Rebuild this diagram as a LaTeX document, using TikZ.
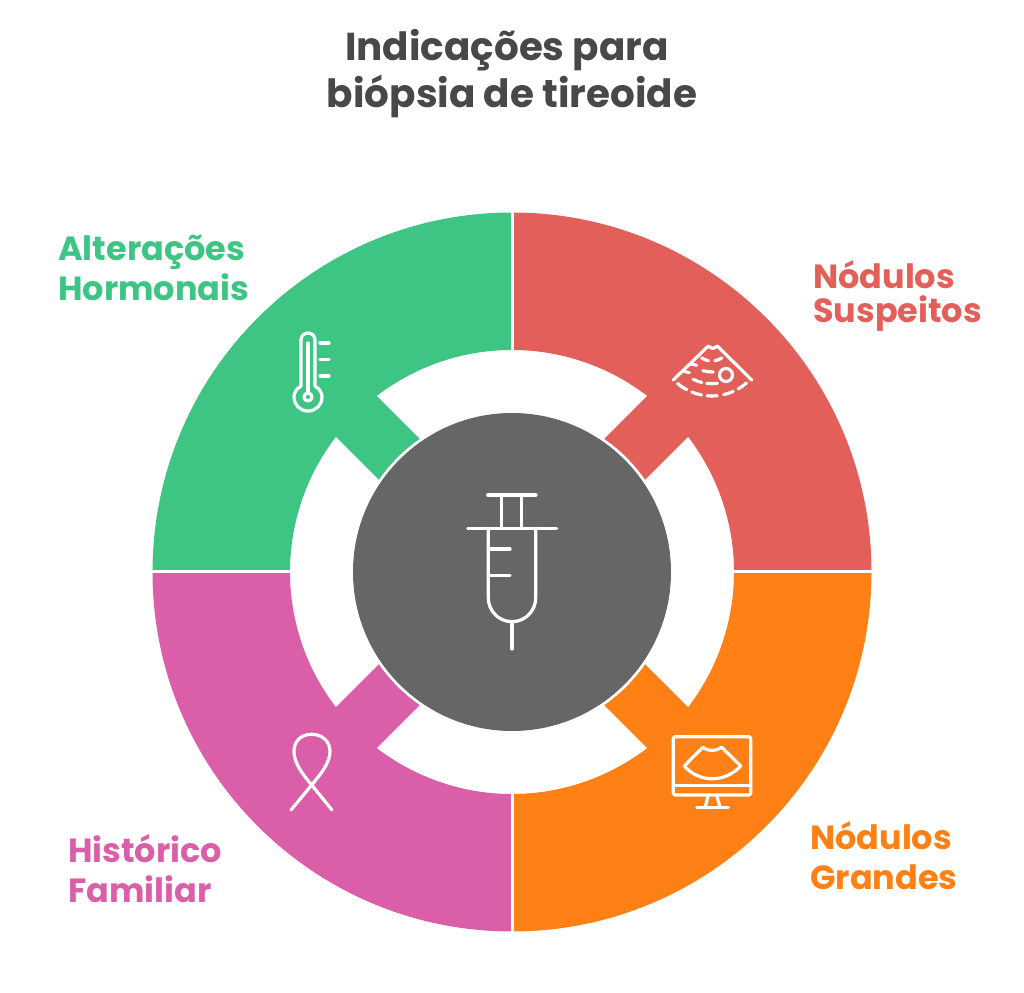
\documentclass[tikz,border=0pt]{standalone}
\usepackage{fontspec}
\setmainfont{Poppins}
\definecolor{hormcol}{HTML}{3EC584}
\definecolor{suspcol}{HTML}{E25F5A}
\definecolor{grancol}{HTML}{FF8014}
\definecolor{histcol}{HTML}{DB5FA8}
\definecolor{hubcol}{HTML}{666666}
\definecolor{titlecol}{HTML}{484848}
\tikzset{%
  heading/.style = {align=center, inner sep=0pt, text=titlecol,%
                    font=\fontsize{38.9}{47}\selectfont\bfseries},%
  tag/.style     = {align=left, anchor=west, inner sep=0pt,%
                    font=\fontsize{33.5}{40}\selectfont\bfseries},%
  icon/.style    = {draw=white, line width=3.2pt, line cap=round, line join=round},%
  gap/.style     = {draw=white, line width=3pt}%
}
\begin{document}
\begin{tikzpicture}[x=1pt,y=1pt]
	\useasboundingbox (-512,-420) rectangle (512,572);
	\foreach \turn/\col in {0/hormcol,-90/suspcol,-180/grancol,-270/histcol}
		\fill [\col,rotate=\turn] (90:359.5) arc (90:180:359.5) -- (180:222) arc (180:142.5:222)
			-- (145.3:162) arc (145.3:124.7:162) -- (127.5:222) arc (127.5:90:222) -- cycle;
	\draw [gap] (0,222) -- (0,361);
	\draw [gap] (0,-222) -- (0,-361);
	\draw [gap] (222,0) -- (361,0);
	\draw [gap] (-222,0) -- (-361,0);
	\fill [hubcol] (0,0) circle (159);
	\node [heading] (title) at (0,498) {Indicações para\hspace{10pt}\mbox{}\\biópsia de tireoide};
	\node [tag,text=hormcol] (hormonal) at (-454,304) {Alterações\\Hormonais};
	\node [tag,text=suspcol,font=\fontsize{33.5}{34}\selectfont\bfseries] (suspect) at (301,276) {Nódulos\\Suspeitos};
	\node [tag,text=grancol] (large) at (298,-284) {Nódulos\\Grandes};
	\node [tag,text=histcol] (family) at (-444,-297) {Histórico\\Familiar};
\begin{scope}[shift={(-512,572)},y=-1pt]
	% syringe
	\draw [icon] (487.7,495) -- (536,495);
	\draw [icon] (501.7,495) -- (501.7,528.3);
	\draw [icon] (521.7,495) -- (521.7,528.3);
	\draw [icon] (467.7,528.3) -- (556.7,528.3);
	\draw [icon] (488.3,528.3) -- (488.3,598) .. controls (488.3,611) and (499,621.7) .. (512,621.7)
		.. controls (525,621.7) and (535.7,611) .. (535.7,598) -- (535.7,528.3);
	\draw [icon] (512,621.7) -- (512,649);
	\draw [icon] (488.3,549) -- (510,549);
	\draw [icon] (488.3,575.7) -- (510,575.7);
	% thermometer
	\draw [icon] (301,386) -- (301,340) .. controls (301,336) and (304,333) .. (308,333)
		.. controls (312,333) and (315,336) .. (315,340) -- (315,386)
		.. controls (320,389) and (322,393) .. (322,397) .. controls (322,405) and (316,411) .. (308,411)
		.. controls (300,411) and (294,405) .. (294,397) .. controls (294,393) and (296,389) .. (301,386);
	\draw [icon] (308,397) circle (4);
	\draw [icon] (308,343) -- (308,393);
	\foreach \y in {343,359.5,376}
		\draw [icon] (320,\y) -- (329,\y);
	% ribbon
	\draw [icon] (291,810) -- (311.7,785) .. controls (320,775) and (330,763) .. (330,751.7)
		.. controls (330,741) and (322,734.3) .. (311.7,734.3)
		.. controls (301,734.3) and (294,741) .. (294,751.7)
		.. controls (294,763) and (303,775) .. (311.7,785) -- (332,810);
	% monitor
	\draw [icon,rounded corners=2pt] (673.3,736.7) rectangle (750.7,795);
	\draw [icon] (673.3,785.7) -- (750.7,785.7);
	\draw [icon] (708.3,795) -- (705,807.7);
	\draw [icon] (716.7,795) -- (720,807.7);
	\draw [icon] (696.7,807.7) -- (728.3,807.7);
	\draw [icon] (684.3,766) -- (702.7,747.3) .. controls (708,751.5) and (716,751.5) .. (721.7,747.3)
		-- (740.7,766) .. controls (725,783) and (699,783) .. (684.3,766);
	% probe
	\draw [icon] (673.3,380) -- (708.3,346) .. controls (711,349) and (714.5,349) .. (717.3,346) -- (751.7,380);
	\draw [icon] (682.7,371) -- (689.3,372.7);
	\draw [icon] (690,363.7) -- (696.7,365.3);
	\draw [icon] (726,375) circle (6.5);
\end{scope}
	% dashes of the probe picture, around its apex
\begin{scope}[shift={(199.7,229)}]
	\foreach \r/\a/\b in {53/230/242,53/248/259,53/265/276,53/283/294,53/300/311,
		40.7/243/256,40.7/263/278,
		29/252/273,
		18/236/260,18/280/304}
		\draw [icon] (\a:\r) arc (\a:\b:\r);
\end{scope}
\end{tikzpicture}
\end{document}
